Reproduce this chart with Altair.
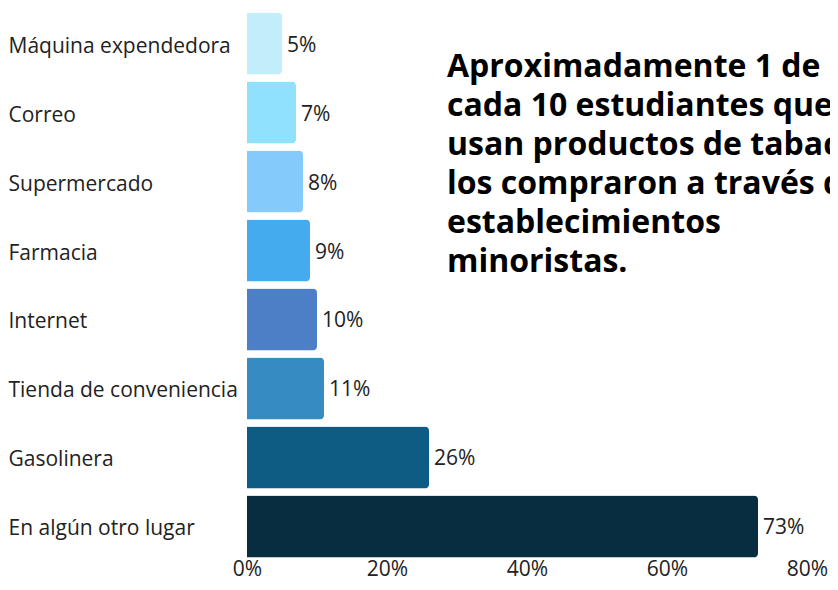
import altair as alt
import pandas as pd

categories = ["Máquina expendedora", "Correo", "Supermercado", "Farmacia", "Internet",
              "Tienda de conveniencia", "Gasolinera", "En algún otro lugar"]
values = [5, 7, 8, 9, 10, 11, 26, 73]
colors = ["#C2EEFC", "#8FE1FD", "#84CBFB", "#44ABEE", "#4D7FC7", "#378BC3", "#0E5C84", "#082D40"]
x_ticks = [0, 20, 40, 60, 80]
title_lines = ["Aproximadamente 1 de", "cada 10 estudiantes que", "usan productos de tabaco",
               "los compraron a través de", "establecimientos", "minoristas."]

df = pd.DataFrame({"cat": categories, "val": values,
                   "lab": [f"{v}%" for v in values]})

FONT = "Open Sans"

y_enc = alt.Y("cat:N", sort=categories, title=None,
              scale=alt.Scale(paddingInner=0.1, paddingOuter=0),
              axis=alt.Axis(labelAlign="left", labelPadding=239, ticks=False, tickSize=0,
                            domain=False, labelFontSize=21, labelFont=FONT,
                            labelColor="#222222", labelOffset=3, labelLimit=300))
x_enc = alt.X("val:Q", title=None, scale=alt.Scale(domain=[0, 80], nice=False),
              axis=alt.Axis(values=x_ticks, labelExpr="datum.value + '%'", grid=False,
                            domain=False, ticks=False, tickSize=0, labelPadding=1,
                            labelAlign="center", labelBaseline="top",
                            labelFontSize=21, labelFont=FONT, labelColor="#222222"))

bars = alt.Chart(df).mark_bar(cornerRadiusEnd=4).encode(
    y=y_enc, x=x_enc,
    color=alt.Color("cat:N", scale=alt.Scale(domain=categories, range=colors), legend=None),
)

labels = alt.Chart(df).mark_text(align="left", baseline="middle", dx=5, dy=2,
                                 fontSize=21, font=FONT, color="#222222").encode(
    y=alt.Y("cat:N", sort=categories), x="val:Q", text="lab:N")

title = alt.Chart(pd.DataFrame({"t": ["\n".join(title_lines)]})).mark_text(
    align="left", baseline="alphabetic", fontSize=32, fontWeight="bold", font=FONT,
    lineBreak="\n", lineHeight=39, color="#000000",
).encode(x=alt.value(200), y=alt.value(64.8), text="t:N")

chart = alt.layer(bars, labels, title).properties(
    width=560, height=545,
    autosize=alt.AutoSizeParams(type="none"),
    padding={"left": 239, "top": 4.5, "right": 23, "bottom": 24.5},
).configure_view(stroke=None)

chart.save("out.html", embed_options={"renderer": "svg", "actions": False})
